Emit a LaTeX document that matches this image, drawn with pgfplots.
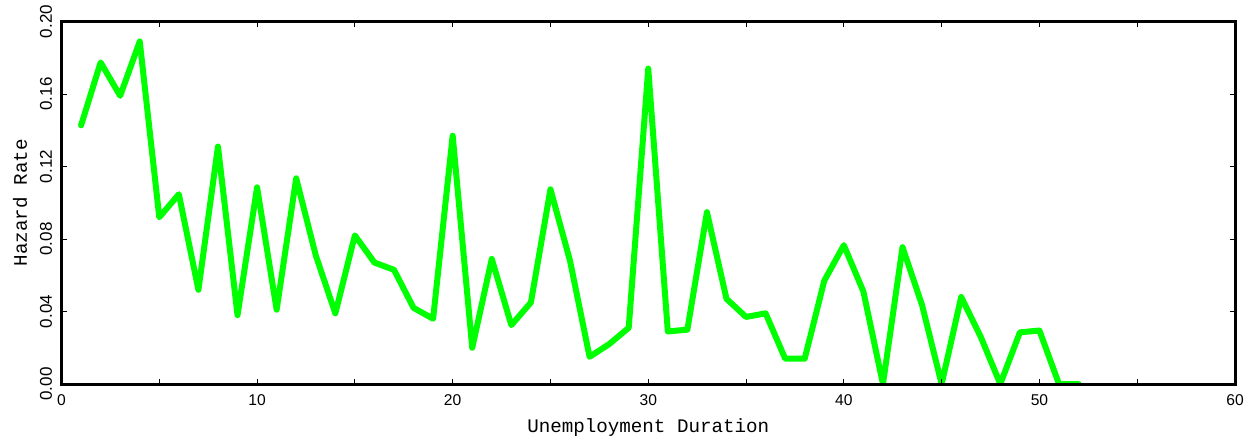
\documentclass[border=0pt]{standalone}
\usepackage{pgfplots}
\pgfplotsset{compat=1.18}
\usepackage{fontspec}
\setmainfont{Liberation Sans}
\setmonofont{Liberation Mono}
\definecolor{hzgreen}{RGB}{0,255,0}
\begin{document}
\begin{tikzpicture}
\begin{axis}[
  scale only axis,
  width=586.75pt, height=181.25pt,
  xmin=0, xmax=60, ymin=0, ymax=0.2,
  xtick={0,10,...,60},
  minor xtick={5,15,...,55},
  ytick={0,0.04,0.08,0.12,0.16,0.2},
  yticklabels={0.00,0.04,0.08,0.12,0.16,0.20},
  tick align=inside,
  major tick length=2.5pt, minor tick length=2.5pt,
  every tick/.style={black, line width=0.5pt},
  every minor tick/.style={black, line width=0.5pt},
  axis line style={line width=1.5pt},
  axis on top,
  /pgf/number format/assume math mode=true,
  xticklabel style={font=\fontsize{7.8}{8}\selectfont, inner sep=0pt},
  xticklabel shift=5.3pt,
  yticklabel style={font=\fontsize{8.5}{9}\selectfont, inner sep=0pt, rotate=90, anchor=south},
  yticklabel shift=4.5pt,
  xlabel={\ttfamily\fontsize{9.6}{11}\selectfont Unemployment Duration},
  ylabel={\ttfamily\fontsize{9.6}{11}\selectfont Hazard Rate},
  every axis x label/.style={at={(axis description cs:0.5,-0.1214)}, anchor=center},
  every axis y label/.style={at={(axis description cs:-0.0354,0.5)}, rotate=90, anchor=center},
]
\addplot[hzgreen, line width=3pt, line join=round, line cap=round] coordinates {
(1,0.1427) (2,0.1774) (3,0.159) (4,0.189) (5,0.092) (6,0.1047) (7,0.052)
(8,0.131) (9,0.038) (10,0.1085) (11,0.041) (12,0.1135) (13,0.071) (14,0.039)
(15,0.082) (16,0.067) (17,0.063) (18,0.042) (19,0.036) (20,0.137) (21,0.020)
(22,0.069) (23,0.0325) (24,0.045) (25,0.1074) (26,0.068) (27,0.015) (28,0.022)
(29,0.031) (30,0.174) (31,0.029) (32,0.030) (33,0.0948) (34,0.047) (35,0.037)
(36,0.039) (37,0.014) (38,0.014) (39,0.057) (40,0.0766) (41,0.051) (42,0)
(43,0.0755) (44,0.0435) (45,0) (46,0.048) (47,0.026) (48,0) (49,0.0285)
(50,0.0295) (51,0) (52,0)
};
\end{axis}
\pgfresetboundingbox
\path ([shift={(-30.75pt,-31.5pt)}]current axis.south west) rectangle ([shift={(7pt,10.75pt)}]current axis.north east);
\end{tikzpicture}
\end{document}
